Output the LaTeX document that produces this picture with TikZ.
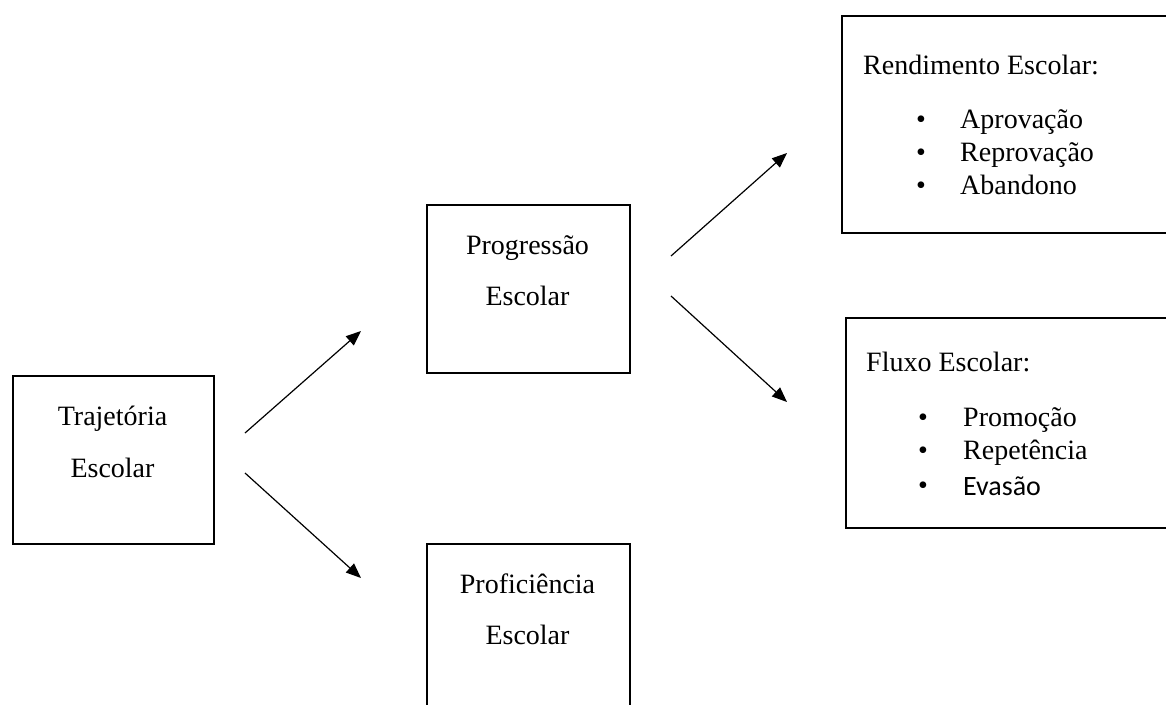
\documentclass[tikz,border=0pt]{standalone}
\usepackage{fontspec}
\setmainfont{Liberation Serif}
\newfontfamily\calibrifont{Carlito}
\usetikzlibrary{arrows.meta}
\tikzset{
  boxnode/.style={draw=black, line width=2pt, anchor=north west, inner sep=0pt, minimum width=#1},
  txt/.style={anchor=base, inner sep=0pt, font=\fontsize{28}{34}\selectfont},
  txtl/.style={anchor=base west, inner sep=0pt, font=\fontsize{28}{34}\selectfont},
  arrowline/.style={line width=1.2pt, -{Triangle[length=15pt,width=12pt]}}
}
\begin{document}
\begin{tikzpicture}[x=1pt,y=-1pt]
\clip (0,0) rectangle (1166,704);
\fill[white] (0,0) rectangle (1166,704);
% boxes
\node[boxnode=201pt, minimum height=168pt] (traj) at (12,375) {};
\node[boxnode=203pt, minimum height=168pt] (prog) at (426,204) {};
\node[boxnode=203pt, minimum height=200pt] (prof) at (426,543) {};
\node[boxnode=360pt, minimum height=217pt] (rend) at (841,15) {};
\node[boxnode=360pt, minimum height=210pt] (flux) at (845,317) {};
% texts
\node[txt] (t1) at (112.5,425) {Trajetória};
\node[txt] (t2) at (112.5,477) {Escolar};
\node[txt] (p1) at (527.5,254) {Progressão};
\node[txt] (p2) at (527.5,305) {Escolar};
\node[txt] (f1) at (527.5,593) {Proficiência};
\node[txt] (f2) at (527.5,644) {Escolar};
\node[txtl] (r0) at (863,74) {Rendimento Escolar:};
\node[txtl] (rb1) at (916,128) {•};
\node[txtl] (rb2) at (916,161) {•};
\node[txtl] (rb3) at (916,194) {•};
\node[txtl] (r1) at (960,128) {Aprovação};
\node[txtl] (r2) at (960,161) {Reprovação};
\node[txtl] (r3) at (960,194) {Abandono};
\node[txtl] (x0) at (866,371) {Fluxo Escolar:};
\node[txtl] (xb1) at (918,426) {•};
\node[txtl] (xb2) at (918,459) {•};
\node[txtl] (xb3) at (918,494) {•};
\node[txtl] (x1) at (963,426) {Promoção};
\node[txtl] (x2) at (963,459) {Repetência};
\node[txtl, font=\fontsize{28}{34}\calibrifont] (x3) at (963,495) {Evasão};
% arrow end points
\coordinate (a1s) at (245,433);
\coordinate (a1e) at (361,331);
\coordinate (a2s) at (245,473);
\coordinate (a2e) at (361,578);
\coordinate (a3s) at (671,256);
\coordinate (a3e) at (787,153);
\coordinate (a4s) at (671,296);
\coordinate (a4e) at (787,402);
\draw[arrowline] (a1s) -- (a1e);
\draw[arrowline] (a2s) -- (a2e);
\draw[arrowline] (a3s) -- (a3e);
\draw[arrowline] (a4s) -- (a4e);
\end{tikzpicture}
\end{document}
